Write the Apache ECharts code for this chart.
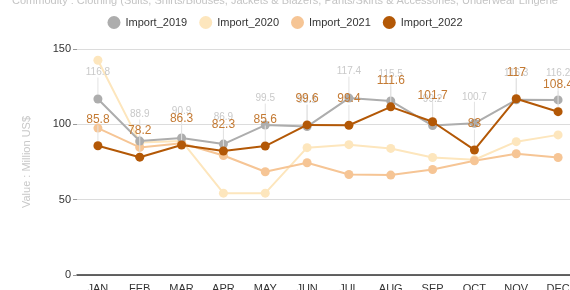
<!DOCTYPE html>
<html>
<head>
<meta charset="utf-8">
<script src="https://cdn.jsdelivr.net/npm/echarts@6/dist/echarts.min.js"></script>
<style>
  html, body { margin: 0; padding: 0; background: #fff; }
  #chart { width: 570px; height: 290px; }
</style>
</head>
<body>
<div id="chart"></div>
<script>
// Monthly clothing imports, four years side by side.
const months = ['JAN', 'FEB', 'MAR', 'APR', 'MAY', 'JUN', 'JUL', 'AUG', 'SEP', 'OCT', 'NOV', 'DEC'];
const import2019 = [116.8, 88.9, 90.9, 86.9, 99.5, 98.5, 117.4, 115.5, 99.2, 100.7, 116.3, 116.2];
const import2020 = [142.5, 88, 89, 54.3, 54.3, 84.5, 86.5, 84, 78, 76.5, 88.5, 93];
const import2021 = [97.5, 84.7, 87.5, 79.3, 68.5, 74.5, 66.7, 66.3, 70, 75.8, 80.5, 78];
const import2022 = [85.8, 78.2, 86.3, 82.3, 85.6, 99.6, 99.4, 111.6, 101.7, 83, 117, 108.4];

const titleText = 'Commodity : Clothing (Suits, Shirts/Blouses, Jackets & Blazers, Pants/Skirts & Accessories, Underwear Lingerie';

function lineSeries(name, data, color, labelOpt) {
  return {
    name: name,
    type: 'line',
    data: data,
    symbol: 'circle',
    symbolSize: 9,
    lineStyle: { width: 2, color: color },
    itemStyle: { color: color },
    label: labelOpt ? Object.assign({ show: true, position: 'top', distance: 5 }, labelOpt.label) : { show: false },
    labelLayout: labelOpt ? labelOpt.layout : undefined,
    labelLine: labelOpt ? { show: true, lineStyle: { color: '#e2e2e2', width: 1 } } : undefined,
    emphasis: { disabled: true },
    z: labelOpt && labelOpt.z ? labelOpt.z : 2,
  };
}

const chart = echarts.init(document.getElementById('chart'), null, { renderer: 'canvas' });
chart.setOption({
  animation: false,
  title: {
    text: titleText,
    left: 'center',
    top: -10,
    textStyle: { fontSize: 11, fontWeight: 'normal', color: '#c4c4c4', fontFamily: 'Liberation Sans' },
  },
  legend: {
    top: 11,
    left: 'center',
    icon: 'circle',
    itemWidth: 13,
    itemHeight: 13,
    itemGap: 12,
    textStyle: { fontSize: 11, color: '#333', fontFamily: 'Liberation Sans' },
    data: ['Import_2019', 'Import_2020', 'Import_2021', 'Import_2022'],
  },
  grid: { left: 77, right: -9, top: 49, bottom: 15, outerBoundsMode: 'none', containLabel: false },
  xAxis: {
    type: 'category',
    data: months,
    axisLine: { lineStyle: { color: '#333', width: 1.5 } },
    axisTick: { show: false },
    axisLabel: { color: '#333', fontSize: 11, margin: 8, fontFamily: 'Liberation Sans' },
  },
  yAxis: {
    type: 'value',
    min: 0,
    max: 150,
    interval: 50,
    name: 'Value : Million US$',
    nameLocation: 'middle',
    nameGap: 45,
    nameTextStyle: { color: '#c8c8c8', fontSize: 11, fontFamily: 'Liberation Sans' },
    axisLine: { show: false },
    axisTick: { show: true, length: 4, lineStyle: { color: '#999' } },
    axisLabel: { color: '#333', fontSize: 11, margin: 6, fontFamily: 'Liberation Sans' },
    splitLine: { lineStyle: { color: '#dcdcdc' } },
  },
  series: [
    lineSeries('Import_2019', import2019, '#adadad', {
      label: { color: '#c9c9c9', fontSize: 10 },
      layout: { dy: -12 },
      z: 3,
    }),
    lineSeries('Import_2020', import2020, '#fde6bd'),
    lineSeries('Import_2021', import2021, '#f6c595'),
    lineSeries('Import_2022', import2022, '#b35806', {
      label: { color: '#c47a33', fontSize: 12 },
      layout: { dy: -11 },
      z: 4,
    }),
  ],
});
window.addEventListener('resize', () => chart.resize());
</script>
</body>
</html>
